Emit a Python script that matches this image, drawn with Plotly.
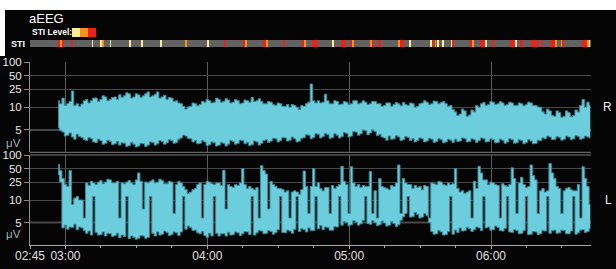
import math
import plotly.graph_objects as go

# ---------------- data ----------------
# time axis: minutes after 02:45, one sample per minute starting 02:57
t_first = 12
t_step = 1

# right hemisphere (R) aEEG envelope, uV
R_hi = [14, 12, 16, 11, 12, 13.5, 23, 11, 12, 10.5,
        11.8, 14, 15, 12.5, 14, 16, 16, 13.5, 15, 18,
        17, 14, 15, 16.5, 17, 15, 19, 16.5, 18, 21,
        20, 16, 17, 20, 19, 16.5, 18, 20, 22, 17,
        18, 19.5, 22, 16, 17, 18.5, 15, 16.5, 16, 13.5,
        14, 12.5, 12, 10.5, 9.6, 10.2, 10.5, 12.5, 12, 10.8,
        11.5, 13.5, 13, 15, 14, 12.5, 13, 16, 15, 13,
        13.5, 15.5, 14.5, 12.5, 13, 15, 14, 12, 12.5, 14.5,
        14, 13, 16.5, 13.5, 14, 15.5, 13.5, 12, 12, 13.5,
        13, 11.5, 11, 12.5, 12, 10.5, 10.5, 11.5, 10, 11.5,
        11, 10, 9.5, 11, 10.5, 12, 13, 33, 14, 12.5,
        14, 12.5, 13, 19.5, 13.9, 12, 12, 14, 13.5, 11.5,
        11.8, 13.5, 13, 11.5, 12, 14, 14, 12, 12.5, 14,
        13, 11.5, 12, 13.5, 13.5, 12, 12, 10.5, 11, 12.5,
        12.5, 10.5, 11.5, 12.8, 12, 10.8, 12.8, 11.5, 11, 12.5,
        12, 10, 10.5, 12, 12.5, 14, 13, 11.5, 12, 13.8,
        13.5, 12, 12.8, 13.5, 12, 10.5, 11, 9.5, 9, 8.2,
        8.5, 9.6, 9.2, 8.0, 8.3, 9.4, 9, 11, 10, 12,
        12.8, 11, 11.5, 13.5, 13, 11.5, 12, 13.5, 12.5, 11,
        11.5, 13, 12.5, 11, 11, 12.5, 12, 10.8, 11.5, 13,
        12.5, 11, 11, 10.2, 10, 9, 8.5, 9.6, 9.2, 8.2,
        8, 9.2, 8.8, 7.8, 8, 9.2, 8.8, 7.9, 8.2, 9.4,
        9, 11, 15, 10, 13, 11]
R_lo = [5.4, 4.8, 4.5, 3.6, 3.8, 4.3, 3.4, 2.9, 4.0, 3.5,
        3.3, 2.8, 2.6, 3.3, 3.0, 2.3, 2.2, 2.9, 2.6, 1.8,
        2.0, 2.7, 2.4, 1.7, 1.9, 2.4, 1.6, 2.1, 2.0, 1.3,
        1.5, 2.2, 1.8, 1.2, 1.4, 2.0, 1.9, 1.3, 1.6, 2.3,
        2.2, 1.6, 1.9, 2.6, 2.4, 1.8, 2.1, 2.8, 2.6, 2.0,
        2.2, 2.9, 3.2, 3.8, 3.6, 3.1, 3.0, 2.3, 2.6, 1.9,
        2.0, 2.6, 2.3, 1.5, 1.7, 2.3, 2.1, 1.4, 1.6, 2.2,
        2.0, 1.4, 1.8, 2.6, 2.4, 1.8, 2.0, 2.7, 2.6, 1.9,
        2.2, 1.5, 1.7, 2.5, 2.3, 1.6, 2.0, 2.6, 2.8, 2.2,
        2.5, 3.1, 3.0, 2.3, 2.6, 3.3, 3.2, 2.5, 2.7, 3.4,
        3.0, 2.3, 2.5, 3.1, 3.3, 3.9, 3.8, 3.0, 3.3, 4.1,
        4.0, 3.2, 3.5, 4.2, 3.9, 3.1, 3.3, 4.1, 3.8, 3.2,
        3.5, 4.4, 4.2, 3.4, 3.6, 4.6, 4.5, 3.8, 4.1, 5.0,
        4.8, 3.9, 4.3, 5.0, 4.6, 3.7, 4.0, 3.4, 3.2, 2.7,
        3.6, 2.9, 3.0, 3.7, 3.4, 2.6, 2.8, 3.5, 3.3, 2.6,
        3.0, 2.3, 2.6, 3.2, 3.0, 2.3, 2.5, 3.1, 2.9, 2.2,
        2.4, 3.0, 2.8, 2.1, 2.3, 2.9, 2.7, 2.2, 2.9, 2.4,
        2.5, 3.2, 3.0, 2.3, 2.4, 3.0, 2.8, 2.2, 2.6, 3.2,
        3.0, 2.3, 2.4, 3.0, 2.8, 2.1, 2.2, 2.9, 2.7, 2.0,
        2.3, 3.0, 2.8, 2.0, 2.1, 2.8, 2.6, 1.9, 2.2, 2.8,
        2.5, 1.9, 2.0, 2.7, 2.6, 3.2, 3.0, 3.6, 3.4, 2.8,
        2.9, 3.5, 3.3, 2.7, 2.9, 3.6, 3.4, 2.8, 3.0, 3.7,
        3.5, 2.9, 3.1, 3.6, 3.4, 3.2]

# left hemisphere (L) aEEG envelope, uV
L_hi = [62, 45, 30, 22, 20, 45, 9, 11, 12, 10,
        10, 6, 24, 21, 26, 24, 22, 25, 27, 23,
        25, 29, 28, 24, 24, 26, 6, 24, 23, 25,
        27, 24, 22, 28, 40, 26, 8, 25, 24, 26,
        28, 24, 25, 29, 27, 23, 23, 26, 25, 7,
        22, 26, 24, 20, 17, 14, 15, 17, 18, 22,
        24, 6, 22, 26, 25, 23, 22, 24, 24, 21,
        46, 8, 22, 20, 19, 22, 21, 24, 50, 22,
        18, 20, 18, 17, 19, 6, 58, 45, 38, 8,
        26, 22, 20, 18, 18, 17, 15, 16, 6, 15,
        16, 15, 13.5, 17, 44, 20, 7, 20, 50, 20,
        24, 18, 16, 19, 19, 7, 21, 18, 20, 22,
        56, 26, 22, 7, 55, 24, 20, 22, 19, 21,
        20, 20, 43, 7, 16, 6, 30, 20, 19, 18,
        17, 21, 20, 24, 60, 7, 30, 24, 22, 22,
        18, 21, 19, 20, 17, 21, 20, 6, 24, 23,
        22, 26, 25, 22, 21, 24, 22, 23, 50, 18,
        15, 16, 14, 15, 16, 6, 26, 18, 56, 40,
        28, 28, 22, 25, 24, 22, 21, 6, 23, 21,
        20, 22, 52, 30, 7, 24, 32, 22, 19, 20,
        60, 35, 28, 7, 16, 18, 15, 16, 65, 40,
        30, 20, 18, 7, 16, 18, 19, 17, 16, 16,
        22, 6, 55, 30, 20, 9]
L_lo = [36, 25, 3.8, 4.4, 3.5, 4.0, 3.9, 4.6, 3.4, 4.0,
        3.8, 3.2, 2.6, 3.1, 2.2, 12, 2.8, 2.2, 2.3, 2.9,
        2.0, 2.6, 2.5, 1.9, 2.1, 2.6, 1.6, 2.2, 1.9, 12,
        1.4, 2.0, 1.7, 1.3, 1.5, 2.1, 2.0, 1.5, 1.7, 12,
        2.6, 2.0, 2.9, 2.2, 2.4, 3.1, 2.8, 2.1, 2.3, 2.9,
        2.7, 2.1, 2.9, 12, 3.5, 4.2, 3.9, 3.2, 3.3, 2.7,
        2.5, 3.0, 2.1, 1.7, 2.6, 2.0, 12, 2.6, 2.0, 2.5,
        2.5, 2.0, 2.8, 2.2, 2.3, 2.9, 2.7, 2.1, 2.5, 3.0,
        2.9, 2.3, 12, 2.2, 2.7, 3.2, 3.1, 2.5, 2.6, 3.2,
        3.0, 2.4, 2.8, 3.4, 12, 2.8, 2.7, 3.3, 3.1, 2.6,
        3.5, 12, 3.0, 3.6, 3.4, 2.9, 3.8, 3.2, 3.2, 12,
        3.6, 4.3, 3.4, 4.0, 3.9, 3.3, 3.3, 4.1, 4.0, 12,
        4.4, 5.2, 5.0, 4.3, 4.5, 5.4, 5.1, 4.4, 4.7, 5.5,
        12, 4.8, 4.6, 5.4, 5.0, 4.3, 4.5, 5.3, 4.9, 4.2,
        4.4, 5.2, 4.8, 4.1, 4.5, 5.5, 6.3, 7.0, 12, 6.2,
        6.3, 7.2, 6.8, 6.0, 6.2, 7.0, 6.5, 5.0, 3.0, 2.4,
        2.5, 3.2, 2.9, 2.2, 2.3, 3.0, 12, 2.4, 3.3, 2.8,
        3.8, 3.1, 3.2, 3.9, 3.6, 3.0, 3.4, 4.0, 3.8, 3.2,
        12, 3.8, 4.0, 3.3, 3.4, 4.2, 3.9, 3.2, 3.1, 3.7,
        12, 2.9, 2.8, 3.4, 3.2, 2.5, 2.6, 3.2, 12, 2.3,
        2.4, 3.0, 2.9, 2.3, 2.5, 3.2, 3.1, 12, 2.6, 3.2,
        3.3, 2.6, 2.7, 3.3, 3.2, 2.5, 2.5, 3.1, 12, 2.4,
        2.7, 3.3, 3.4, 2.8, 3.0, 3.6]

# STI events: start / end (minutes after 02:45) and level (1 low, 2 mid, 3 high)
sti_start = [11.84, 12.90, 13.54, 17.55, 26.23, 30.03, 30.46, 33.84, 42.09, 47.17, 55.20, 65.57, 65.99,
             74.87, 81.85, 90.10, 90.95, 98.35, 99.83, 107.02, 114.85, 115.91, 119.29, 127.96, 131.56,
             135.58, 136.21, 144.04, 144.67, 147.21, 155.67, 156.51, 160.53, 169.42, 170.47, 170.90,
             172.17, 174.49, 178.09, 178.51, 186.13, 186.97, 190.36, 192.68, 195.22, 203.05, 205.37,
             207.49, 211.72, 216.37, 219.97, 222.29, 224.83, 225.25, 233.29, 235.41, 236.25]
sti_end = [12.69, 13.32, 14.17, 17.98, 26.65, 30.46, 31.30, 34.26, 42.51, 47.59, 55.63, 65.99, 66.41,
           75.30, 82.70, 90.95, 91.37, 99.83, 100.68, 107.87, 115.91, 116.75, 121.62, 128.60, 133.67,
           136.21, 136.84, 144.67, 145.09, 148.48, 156.51, 158.21, 160.96, 169.84, 170.90, 171.32,
           173.01, 174.92, 178.51, 179.15, 186.97, 187.39, 192.47, 193.10, 196.28, 205.16, 205.80,
           208.33, 214.89, 217.01, 222.08, 222.72, 225.25, 225.89, 235.41, 236.25, 236.68]
sti_level = [3, 2, 3, 3, 1, 1, 2, 1, 1, 1, 1, 2, 1,
             1, 3, 3, 2, 3, 2, 3, 3, 2, 3, 1, 3,
             3, 2, 2, 3, 3, 2, 3, 1, 1, 3, 2,
             1, 1, 1, 3, 3, 2, 3, 1, 3, 3, 1,
             3, 3, 3, 3, 2, 2, 3, 3, 2, 1]
sti_total = 237.3

x_tick_vals = [0, 15, 75, 135, 195]
x_tick_text = ["02:45", "03:00", "04:00", "05:00", "06:00"]
y_tick_uv = [5, 10, 25, 50, 100]
y_tick_text = ["5", "10", "25", "50", "100"]

# ---------------- helpers ----------------
W, H = 616, 269
ML, MR, MT, MB = 30, 25, 40, 24
PW, PH = W - ML - MR, H - MT - MB


def semilog(v):
    """aEEG semi-log scale: linear 0-10 uV, logarithmic 10-100 uV."""
    return v / 10.0 if v <= 10 else 1.0 + math.log10(v / 10.0)


def px(xp):
    return (xp - ML) / PW


def py(yp):
    return (H - MB - yp) / PH


t = [t_first + t_step * i for i in range(len(R_hi))]

CYAN = "#6ccddd"
EDGE = "#3a8e9b"
GRID = "#484848"
FONT = "Arial, Liberation Sans, sans-serif"

fig = go.Figure()

for hi, lo, xa, ya in [(R_hi, R_lo, "x2", "y2"), (L_hi, L_lo, "x", "y")]:
    n = min(len(hi), len(lo))
    fig.add_trace(go.Scatter(x=t[:n], y=[semilog(v) for v in hi[:n]], xaxis=xa, yaxis=ya, mode="lines",
                             line=dict(color=EDGE, width=1, shape="hvh"), hoverinfo="skip",
                             showlegend=False))
    fig.add_trace(go.Scatter(x=t[:n], y=[semilog(v) for v in lo[:n]], xaxis=xa, yaxis=ya, mode="lines",
                             line=dict(color=EDGE, width=1, shape="hvh"), fill="tonexty",
                             fillcolor=CYAN, hoverinfo="skip", showlegend=False))

# STI bar
sti_colors = {1: "#f3ec98", 2: "#f5921e", 3: "#e8231f"}
fig.add_trace(go.Bar(x=[sti_total], base=[0], y=[0.5], orientation="h", width=1,
                     marker=dict(color="#626262", line=dict(width=0)), xaxis="x3", yaxis="y3",
                     hoverinfo="skip", showlegend=False))
for lev in (1, 2, 3):
    idx = [i for i, l in enumerate(sti_level) if l == lev]
    fig.add_trace(go.Bar(x=[sti_end[i] - sti_start[i] for i in idx], base=[sti_start[i] for i in idx],
                         y=[0.5] * len(idx), orientation="h", width=1,
                         marker=dict(color=sti_colors[lev], line=dict(width=0)),
                         xaxis="x3", yaxis="y3", hoverinfo="skip", showlegend=False))

minor_vals = [15 * k for k in range(17) if 15 * k not in x_tick_vals]
xcommon = dict(range=[0, sti_total], showgrid=True, gridcolor="#5c5c5c", gridwidth=1,
               tickvals=x_tick_vals, ticktext=x_tick_text, zeroline=False, fixedrange=True)
ycommon = dict(range=[0, 2], tickvals=[semilog(v) for v in y_tick_uv], ticktext=y_tick_text,
               showgrid=True, gridcolor=GRID, gridwidth=1, zeroline=False,
               showline=True, linecolor="#8a8a8a", linewidth=1,
               ticks="outside", ticklen=5, tickcolor="#8a8a8a",
               tickfont=dict(family=FONT, size=11.5, color="#e8e8e8"), automargin=False)

dom_bot = [0, py(155)]
dom_top = [py(152.3), py(62.3)]
dom_sti = [py(47), py(40)]

shapes = []
# brighter 5 uV line and panel borders
for ya in ("y", "y2"):
    shapes.append(dict(type="line", xref="x domain", yref=ya, x0=0, x1=1, y0=semilog(5), y1=semilog(5),
                       line=dict(color="#8a8a8a", width=1.5), layer="below"))
shapes.append(dict(type="line", xref="paper", yref="paper", x0=0, x1=1, y0=dom_top[0], y1=dom_top[0],
                   line=dict(color="#7a7a7a", width=1)))
shapes.append(dict(type="line", xref="paper", yref="paper", x0=0, x1=1, y0=dom_bot[1], y1=dom_bot[1],
                   line=dict(color="#7a7a7a", width=1)))
# white page border at top-left
shapes.append(dict(type="rect", xref="paper", yref="paper", x0=px(-2), x1=px(W + 2), y0=py(10), y1=py(-2),
                   fillcolor="white", line=dict(width=0), layer="above"))
shapes.append(dict(type="rect", xref="paper", yref="paper", x0=px(-2), x1=px(5), y0=py(56), y1=py(-2),
                   fillcolor="white", line=dict(width=0), layer="above"))
# STI legend swatches
for i, lev in enumerate((1, 2, 3)):
    shapes.append(dict(type="rect", xref="paper", yref="paper", x0=px(72 + 8 * i), x1=px(80 + 8 * i),
                       y0=py(37), y1=py(28), fillcolor=sti_colors[lev], line=dict(width=0)))

annotations = [
    dict(text="aEEG", x=px(27), y=py(19), xanchor="left", yanchor="middle",
         font=dict(family=FONT, size=13, color="white")),
    dict(text="<b>STI Level:</b>", x=px(30), y=py(32.5), xanchor="left", yanchor="middle",
         font=dict(family=FONT, size=8.5, color="white")),
    dict(text="<b>STI</b>", x=px(27), y=py(43.5), xanchor="right", yanchor="middle",
         font=dict(family=FONT, size=9, color="white")),
    dict(text="μV", x=px(23), y=py(142.5), xanchor="right", yanchor="middle",
         font=dict(family=FONT, size=11.5, color="#a9b0b6")),
    dict(text="μV", x=px(23), y=py(233.5), xanchor="right", yanchor="middle",
         font=dict(family=FONT, size=11.5, color="#a9b0b6")),
    dict(text="R", x=px(607.5), y=py(107.5), xanchor="center", yanchor="middle",
         font=dict(family=FONT, size=12, color="#eeeeee")),
    dict(text="L", x=px(608), y=py(200), xanchor="center", yanchor="middle",
         font=dict(family=FONT, size=12, color="#eeeeee")),
]
for a in annotations:
    a.update(xref="paper", yref="paper", showarrow=False)

fig.update_layout(
    width=W, height=H, autosize=False,
    margin=dict(l=ML, r=MR, t=MT, b=MB, pad=0),
    paper_bgcolor="#050505", plot_bgcolor="#050505",
    barmode="overlay", bargap=0, showlegend=False,
    xaxis=dict(**xcommon, anchor="y", domain=[0, 1], showline=True, linecolor="#a8a8a8", linewidth=1,
               ticks="outside", ticklen=3, tickcolor="#a8a8a8", ticklabelstandoff=-3,
               tickfont=dict(family=FONT, size=12, color="#e0e0e0"),
               minor=dict(tickvals=minor_vals, ticks="outside", ticklen=2, tickcolor="#a8a8a8",
                          showgrid=False), automargin=False),
    yaxis=dict(**ycommon, domain=dom_bot, anchor="x"),
    xaxis2=dict(**xcommon, matches="x", anchor="y2", showticklabels=False, ticks=""),
    yaxis2=dict(**ycommon, domain=dom_top, anchor="x2"),
    xaxis3=dict(range=[0, sti_total], matches="x", anchor="y3", visible=False),
    yaxis3=dict(range=[0, 1], domain=dom_sti, anchor="x3", visible=False, fixedrange=True),
    shapes=shapes, annotations=annotations,
)

fig.write_html("out.html", config={"displayModeBar": False},
               post_script="document.body.style.margin='0px';document.body.style.overflow='hidden';")
